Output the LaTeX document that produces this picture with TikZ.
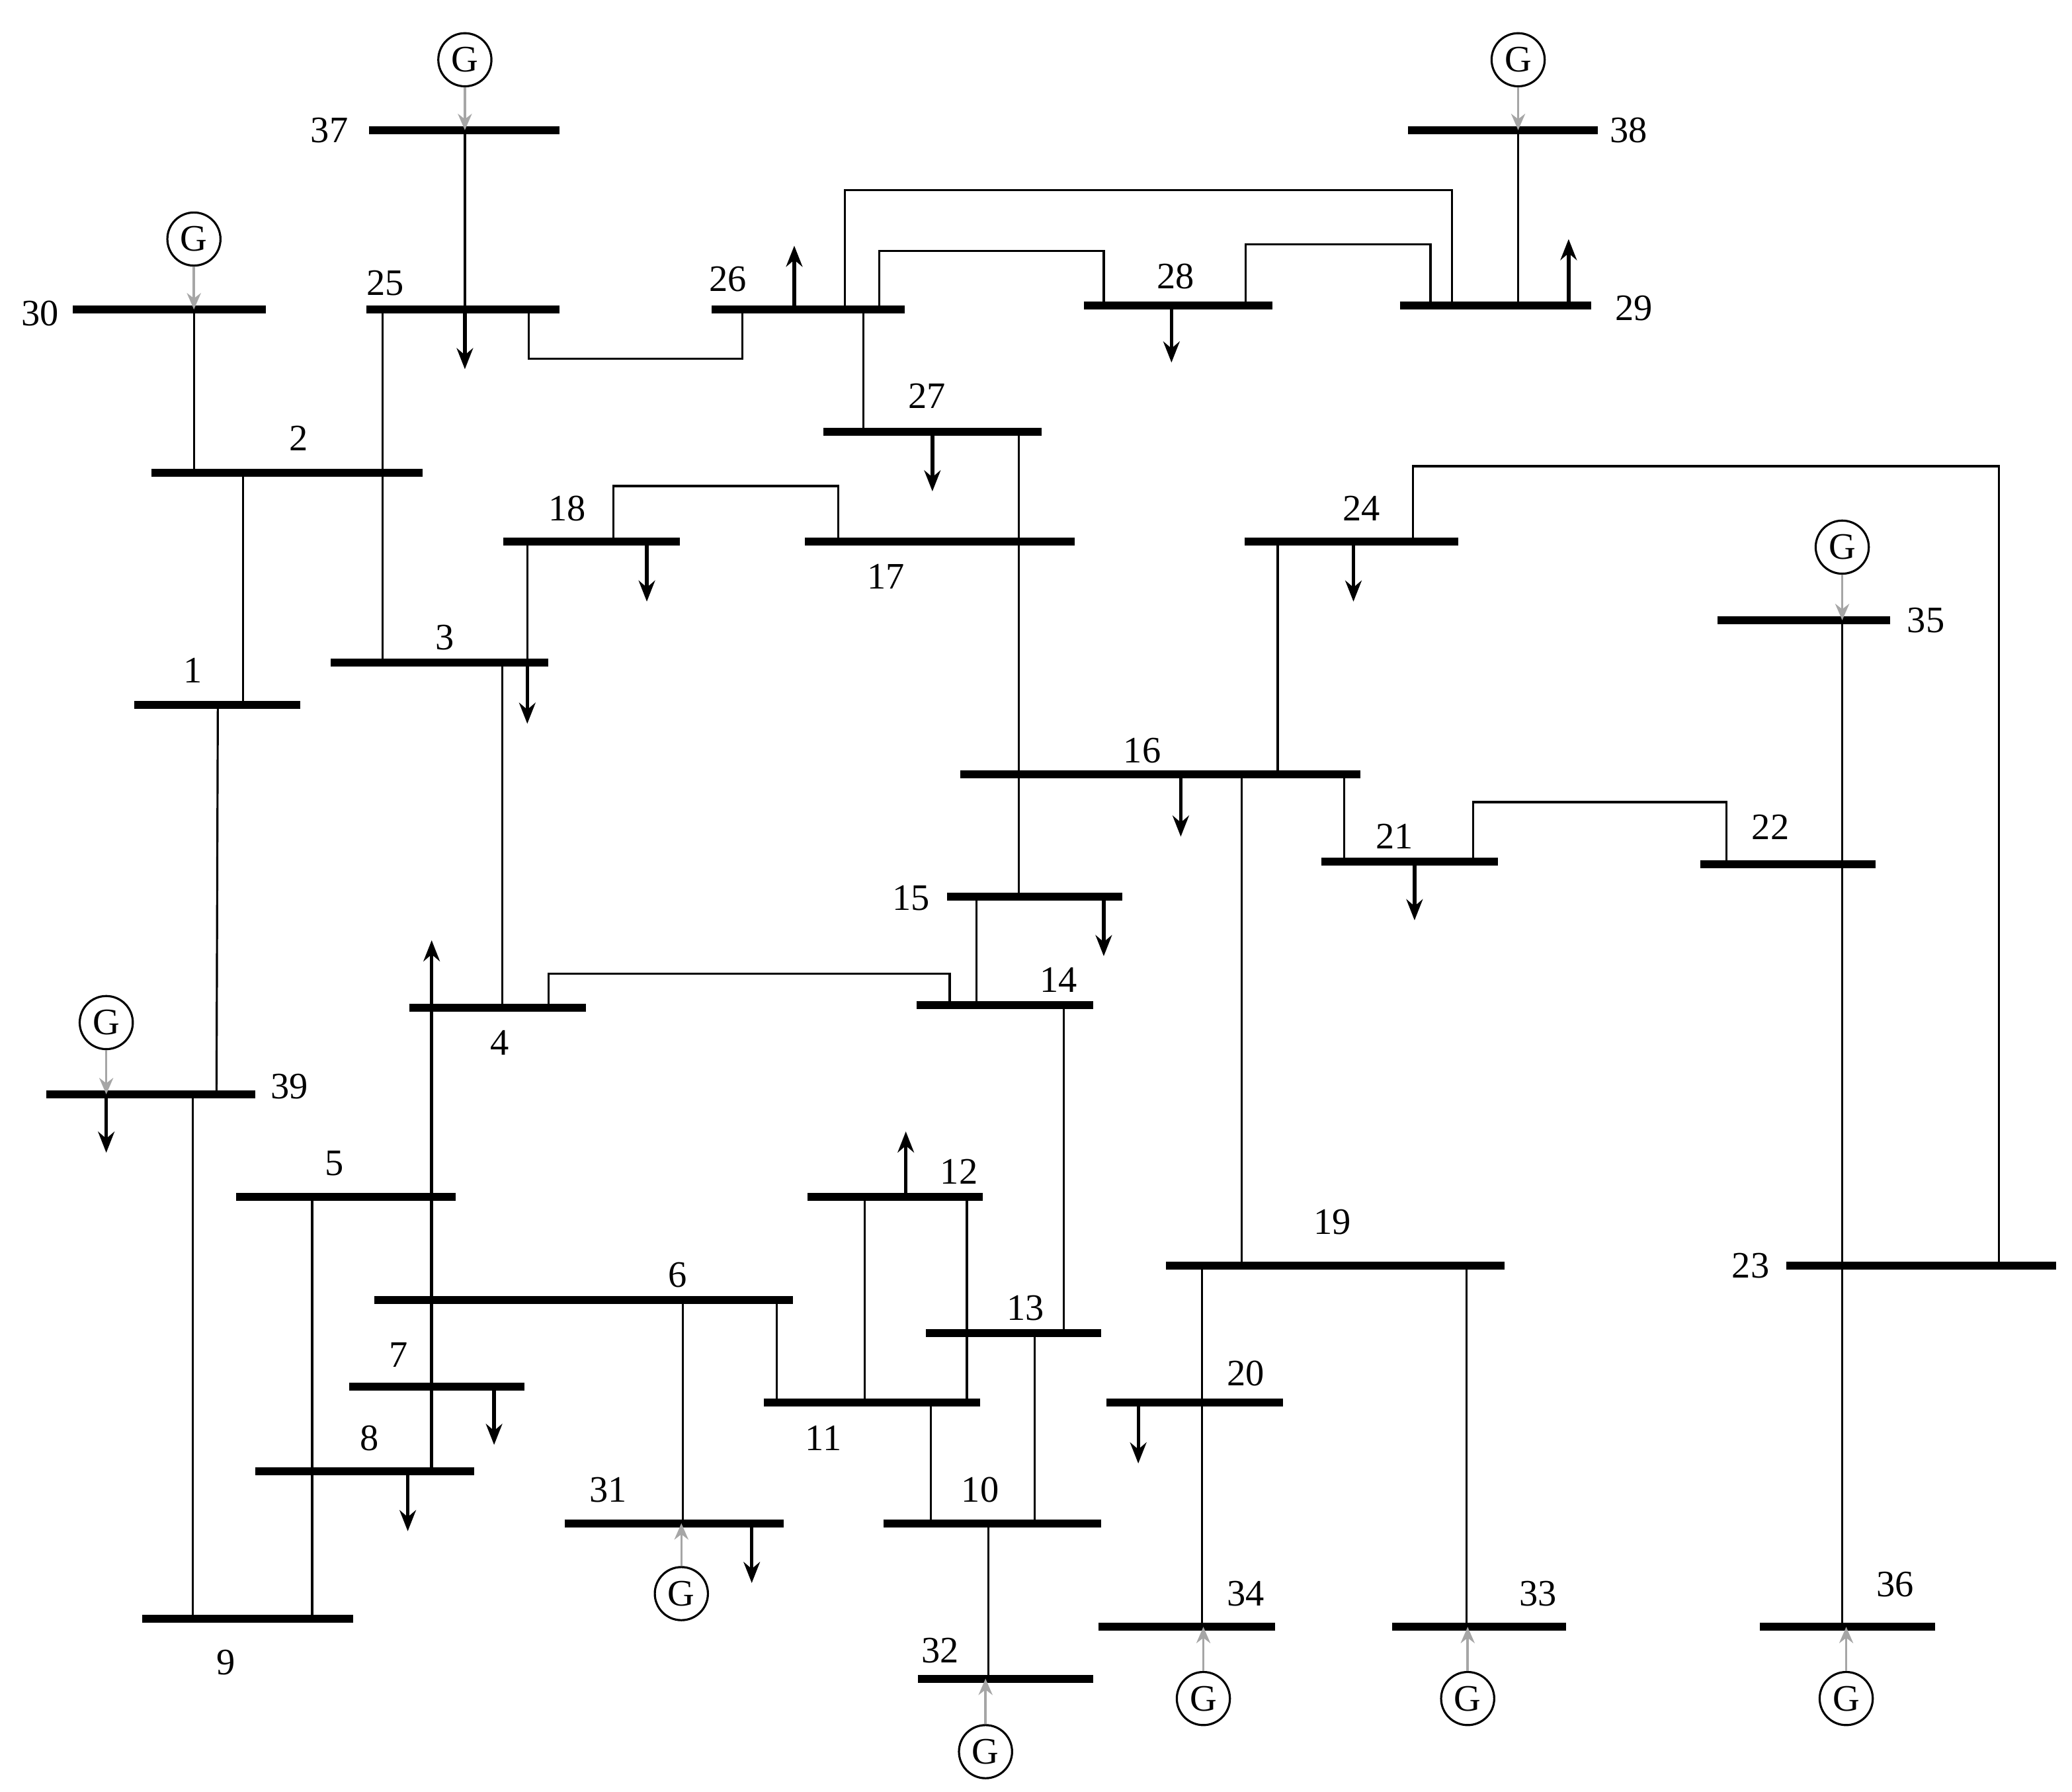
\documentclass[tikz,border=0pt]{standalone}
\usepackage{fontspec}
\setmainfont{Liberation Serif}
\usetikzlibrary{arrows.meta}
\begin{document}
\begin{tikzpicture}[x=0.02cm,y=-0.02cm,
 bus/.style={line width=3.4pt},
 ln/.style={line width=0.9pt},
 load/.style={line width=1.5pt,-{Stealth[length=9pt,width=7pt]}},
 gar/.style={line width=1pt,gray!70,-{Stealth[length=7pt,width=6pt]}},
 gen/.style={circle,draw,line width=0.9pt,minimum size=0.8cm,inner sep=0pt,font=\fontsize{16}{18}\selectfont},
 lab/.style={font=\fontsize{16}{18}\selectfont,inner sep=0pt}]
\useasboundingbox (0,0) rectangle (1560,1349);
% buses: name, x1, x2, y
\foreach \n/\a/\b/\y in {37/278/421/98,38/1060/1203/98,30/55/200/233,25/276/421/233,26/536/681/233,28/816/958/230,29/1054/1198/230,2/114/318/356,27/620/784/325,18/379/512/408,17/606/809/408,24/937/1098/408,35/1293/1423/467,3/249/413/499,1/101/226/531,16/723/1024/583,21/995/1128/649,22/1280/1412/651,15/713/845/675,14/690/823/757,4/308/441/759,39/35/192/824,5/178/343/901,12/608/740/901,19/878/1133/953,23/1345/1548/953,6/282/597/979,13/697/829/1004,7/263/395/1044,20/833/966/1056,11/575/738/1056,8/192/357/1108,31/425/590/1147,10/665/829/1147,9/107/266/1219,34/827/960/1225,33/1048/1179/1225,36/1325/1457/1225,32/691/823/1264}
 {\draw[bus] (\a,\y) coordinate (b\n l) -- (\b,\y) coordinate (b\n r);}
% labels
\foreach \t/\x/\y in {37/248/98,38/1226/98,30/30/236,25/290/213,26/548/210,28/885/208,29/1230/232,2/225/330,27/698/298,18/427/383,17/667/434,24/1025/383,35/1450/467,3/335/480,1/145/505,16/860/565,21/1050/630,22/1333/623,15/686/676,14/797/738,4/376/785,39/218/818,5/252/876,12/722/882,19/1003/920,23/1318/953,6/510/960,13/772/985,7/300/1020,20/938/1034,11/620/1083,8/278/1083,31/458/1122,10/738/1122,9/170/1252,34/938/1200,33/1158/1200,36/1427/1193,32/708/1243}
 {\node[lab] (t\t) at (\x,\y) {\t};}
% generators
\foreach \n/\x/\y/\by in {37/350/45/98,38/1143/45/98,30/146/180/233,35/1387/412/467,39/80/770/824}
 {\node[gen] (g\n) at (\x,\y) {G}; \coordinate (gb\n) at (\x,\by); \draw[gar] (g\n) -- (gb\n);}
\foreach \n/\x/\y/\by in {31/513/1200/1147,34/906/1279/1225,33/1105/1279/1225,36/1390/1279/1225,32/742/1319/1264}
 {\node[gen] (g\n) at (\x,\y) {G}; \coordinate (gb\n) at (\x,\by); \draw[gar] (g\n) -- (gb\n);}
% lines
\draw[ln] (146,233) -- (146,356);
\draw[ln] (350,98) -- (350,233);
\draw[ln] (288,233) -- (288,499);
\draw[ln] (398,233) -- (398,270) -- (559,270) -- (559,233);
\draw[ln] (636,233) -- (636,143) -- (1093,143) -- (1093,230);
\draw[ln] (662,233) -- (662,189) -- (831,189) -- (831,230);
\draw[ln] (938,230) -- (938,184) -- (1077,184) -- (1077,230);
\draw[ln] (1143,98) -- (1143,230);
\draw[ln] (650,233) -- (650,325);
\draw[ln] (767,325) -- (767,675);
\draw[ln] (462,408) -- (462,366) -- (631,366) -- (631,408);
\draw[ln] (397,408) -- (397,499);
\draw[ln] (183,356) -- (183,531);
\draw[ln] (164,531) -- (163,824);
\draw[ln] (378,499) -- (378,759);
\draw[ln] (413,759) -- (413,733) -- (715,733) -- (715,757);
\draw[ln] (735,675) -- (735,757);
\draw[ln] (801,757) -- (801,1004);
\draw[ln] (962,408) -- (962,583);
\draw[ln] (1064,408) -- (1064,351) -- (1505,351) -- (1505,953);
\draw[ln] (1012,583) -- (1012,649);
\draw[ln] (1109,649) -- (1109,604) -- (1300,604) -- (1300,651);
\draw[ln] (1387,467) -- (1387,1225);
\draw[ln] (935,583) -- (935,953);
\draw[ln] (905,953) -- (905,1225);
\draw[ln] (1104,953) -- (1104,1225);
\draw[ln] (145,824) -- (145,1219);
\draw[ln] (235,1219) -- (235,901);
\draw[ln] (514,979) -- (514,1147);
\draw[ln] (585,979) -- (585,1056);
\draw[ln] (651,901) -- (651,1056);
\draw[ln] (728,901) -- (728,1056);
\draw[ln] (701,1056) -- (701,1147);
\draw[ln] (779,1004) -- (779,1147);
\draw[ln] (744,1147) -- (744,1264);
% loads
\draw[load] (350,233) -- (350,278);
\draw[load] (598,233) -- (598,185);
\draw[load] (882,230) -- (882,273);
\draw[load] (1181,230) -- (1181,180);
\draw[load] (702,325) -- (702,370);
\draw[load] (487,408) -- (487,453);
\draw[load] (1019,408) -- (1019,453);
\draw[load] (397,499) -- (397,545);
\draw[load] (889,583) -- (889,630);
\draw[load] (1065,649) -- (1065,693);
\draw[load] (831,675) -- (831,720);
\draw[load] (325,1108) -- (325,708);
\draw[load] (80,824) -- (80,868);
\draw[load] (682,901) -- (682,852);
\draw[load] (372,1044) -- (372,1088);
\draw[load] (857,1056) -- (857,1102);
\draw[load] (307,1108) -- (307,1153);
\draw[load] (566,1147) -- (566,1192);
\end{tikzpicture}
\end{document}
